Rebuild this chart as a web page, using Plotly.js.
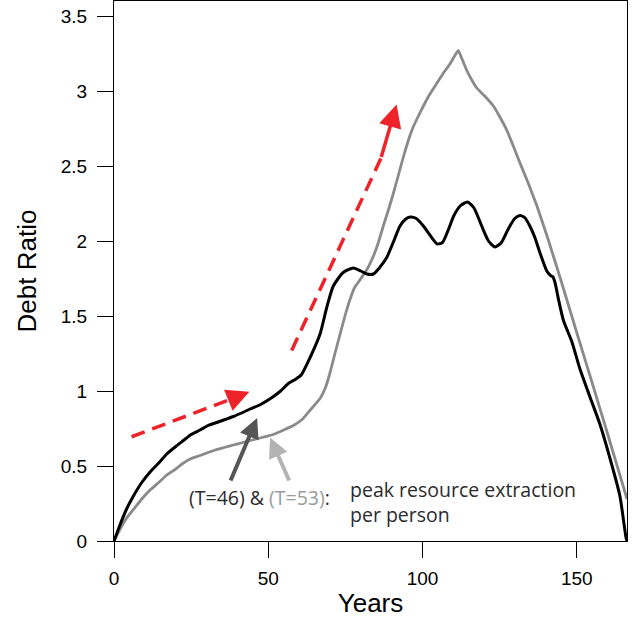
<!DOCTYPE html>
<html>
<head>
<meta charset="utf-8">
<script src="https://cdn.plot.ly/plotly-3.0.1.min.js"></script>
<style>html,body{margin:0;padding:0;background:#fff;}#chart{width:634px;height:625px;}</style>
</head>
<body>
<div id="chart"></div>
<script>
// Debt ratio, T=46 scenario (black)
var yearsA = [0,2,4,6.3,9,11.7,14.5,17.1,20,22.5,25,27.9,30.5,33.3,36,38.7,41.5,44.1,47.5,51.1,54,56.5,59,60.8,63.5,66.8,69,71.1,74.3,77.6,80,82,84.1,86,88.4,90.5,92.7,94.5,96,98,100.3,102.4,104.8,106.5,108.3,110.2,112.3,114.6,116.7,119,121.4,123.5,125.6,127.8,129.9,131.6,133.2,134.8,136.5,138.1,140.3,141.5,142.3,143,144.1,145.7,148.4,151,154.3,157.5,160.8,164,166,166.3];
var debtA  = [0,0.11,0.21,0.30,0.39,0.46,0.52,0.58,0.63,0.67,0.71,0.74,0.77,0.79,0.81,0.83,0.855,0.88,0.91,0.955,1.00,1.05,1.08,1.11,1.22,1.38,1.56,1.70,1.79,1.82,1.80,1.78,1.78,1.82,1.89,1.99,2.10,2.145,2.16,2.15,2.10,2.04,1.98,1.99,2.07,2.17,2.235,2.26,2.22,2.11,2.00,1.96,1.99,2.08,2.15,2.17,2.155,2.10,2.02,1.92,1.80,1.77,1.76,1.72,1.61,1.47,1.33,1.15,0.96,0.78,0.55,0.30,0.02,0];
// Debt ratio, T=53 scenario (grey)
var yearsB = [0,2,4,6.3,9,11.7,14.5,17.1,20,22.5,25,27.9,30.5,33.3,36,38.7,41.5,44.1,48,51.6,55,58.1,61,63.5,66.8,68.5,70,71.5,73.3,75,76.5,78,79.7,82,84.1,85.7,87.3,89,90.6,92.2,93.8,95.4,97,98.6,100.3,102.4,104.6,106.8,108.9,110.3,111.6,112.9,114.3,115.8,117.6,120,123,125,127.3,129.5,131.6,134.3,137,140.8,145,150,155,160,166.3];
var debtB  = [0,0.08,0.15,0.21,0.28,0.34,0.39,0.44,0.48,0.52,0.55,0.57,0.59,0.61,0.625,0.64,0.655,0.67,0.69,0.71,0.74,0.77,0.81,0.87,0.95,1.02,1.12,1.24,1.38,1.51,1.61,1.69,1.74,1.81,1.90,1.99,2.10,2.21,2.32,2.44,2.56,2.67,2.76,2.83,2.90,2.98,3.05,3.12,3.18,3.23,3.27,3.21,3.14,3.08,3.02,2.97,2.90,2.83,2.74,2.63,2.52,2.385,2.24,2.007,1.73,1.39,1.055,0.715,0.28];
var xTicks = [0,50,100,150];
var yTicks = [0,0.5,1,1.5,2,2.5,3,3.5];
var yTickText = ['0','0.5','1','1.5','2','2.5','3','3.5'];

var RED = '#ee2229';
var traces = [
  {x: yearsB, y: debtB, mode: 'lines', line: {color: '#8a8a8a', width: 2.8, shape: 'spline', smoothing: 0.3}, hoverinfo: 'skip'},
  {x: yearsA, y: debtA, mode: 'lines', line: {color: '#000000', width: 3, shape: 'spline', smoothing: 0.6}, hoverinfo: 'skip'}
];

var axisFont = {family: 'Liberation Sans, Arial, sans-serif', size: 19, color: '#000'};
var noteFont = {family: 'Open Sans, sans-serif', size: 19.5, color: '#2b2b2b'};

var layout = {
  width: 634, height: 625,
  margin: {l: 114, r: 7, t: 1, b: 84},
  paper_bgcolor: '#fff', plot_bgcolor: '#fff',
  showlegend: false,
  xaxis: {
    range: [0, 166.3], tickvals: xTicks, ticks: 'outside', ticklen: 16, tickwidth: 1, tickcolor: '#000',
    showline: true, mirror: true, linecolor: '#000', linewidth: 1, showgrid: false, zeroline: false,
    tickfont: axisFont, ticklabelstandoff: 4,
    title: {text: 'Years', font: {family: 'Liberation Sans, Arial, sans-serif', size: 26, color: '#000'}, standoff: 6}
  },
  yaxis: {
    range: [0, 3.6], tickvals: yTicks, ticktext: yTickText, ticks: 'outside', ticklen: 16, tickwidth: 1, tickcolor: '#000',
    showline: true, mirror: true, linecolor: '#000', linewidth: 1, showgrid: false, zeroline: false,
    tickfont: axisFont, ticklabelstandoff: 6,
    title: {text: 'Debt Ratio', font: {family: 'Liberation Sans, Arial, sans-serif', size: 26, color: '#000'}, standoff: 16}
  },
  shapes: [
    {type: 'line', xref: 'x', yref: 'y', x0: 5.7, y0: 0.695, x1: 38.5, y1: 0.95, line: {color: RED, width: 3.5, dash: '14px,8px'}},
    {type: 'line', xref: 'x', yref: 'y', x0: 57.6, y0: 1.27, x1: 86.5, y1: 2.55, line: {color: RED, width: 3.5, dash: '14px,8px'}}
  ],
  annotations: [
    {x: 43.9, y: 0.995, ax: 38.5, ay: 0.95, xref: 'x', yref: 'y', axref: 'x', ayref: 'y', text: '', showarrow: true,
     arrowhead: 2, arrowsize: 1.3, arrowwidth: 3.5, arrowcolor: RED},
    {x: 91.6, y: 2.91, ax: 86.5, ay: 2.55, xref: 'x', yref: 'y', axref: 'x', ayref: 'y', text: '', showarrow: true,
     arrowhead: 2, arrowsize: 1.3, arrowwidth: 3.5, arrowcolor: RED},
    {x: 46.4, y: 0.82, ax: 37.6, ay: 0.393, xref: 'x', yref: 'y', axref: 'x', ayref: 'y', text: '', showarrow: true,
     arrowhead: 2, arrowsize: 1.0, arrowwidth: 4, arrowcolor: '#555555'},
    {x: 50.6, y: 0.69, ax: 57.0, ay: 0.393, xref: 'x', yref: 'y', axref: 'x', ayref: 'y', text: '', showarrow: true,
     arrowhead: 2, arrowsize: 1.0, arrowwidth: 4, arrowcolor: '#b3b3b3'},
    {x: 23.6, y: 0.293, xref: 'x', yref: 'y', xanchor: 'left', yanchor: 'middle', showarrow: false,
     text: '(T=46) &amp; <span style="color:#9a9a9a">(T=53)</span>:', font: noteFont},
    {x: 75.9, y: 0.26, xref: 'x', yref: 'y', xanchor: 'left', yanchor: 'middle', align: 'left', showarrow: false,
     text: 'peak resource extraction<br>per person', font: noteFont}
  ]
};

Plotly.newPlot('chart', traces, layout, {staticPlot: true, displayModeBar: false});
</script>
</body>
</html>
